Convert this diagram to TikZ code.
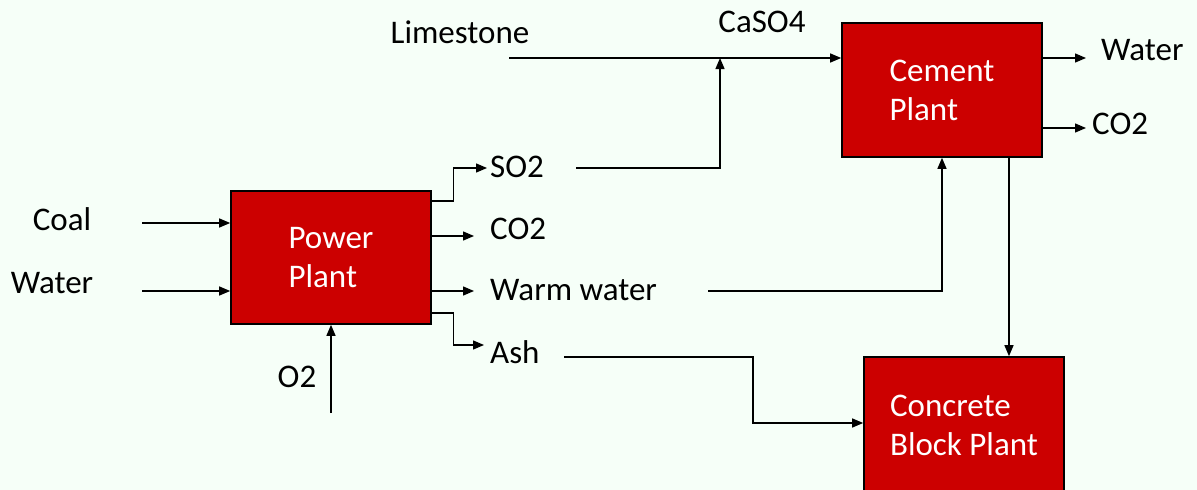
\documentclass[tikz,border=0pt]{standalone}
\usepackage{fontspec}
\setmainfont{Carlito}
\usetikzlibrary{arrows.meta}
\definecolor{bgc}{RGB}{246,255,248}
\definecolor{boxred}{RGB}{204,0,0}
\begin{document}
\begin{tikzpicture}[x=1pt,y=-1pt,
  font=\fontsize{33}{39}\selectfont,
  plant/.style={draw=black,line width=1.6pt,fill=boxred,text=white,align=left,
    minimum width=200pt,inner sep=0pt},
  lbl/.style={inner sep=0pt,anchor=base west},
  lblc/.style={inner sep=0pt,anchor=base},
  flow/.style={line width=1.3pt,-{Triangle[length=11pt,width=9pt]}},
  plain/.style={line width=1.3pt}]
\useasboundingbox (0,0) rectangle (1197,490);
\fill[bgc] (0,0) rectangle (1197,490);
\clip (0,0) rectangle (1197,490);

% boxes
\node[plant,minimum height=133pt] (power) at (331,257.5) {Power\\Plant};
\node[plant,minimum height=134pt] (cement) at (942,90) {Cement\\Plant};
\node[plant,minimum height=136pt] (concrete) at (964,425) {Concrete\\Block Plant};

% labels
\node[lblc] (coal) at (62,230) {Coal};
\node[lblc] (waterin) at (52,293) {Water};
\node[lblc] (o2) at (297,387) {O2};
\node[lbl] (so2) at (490,177) {SO2};
\node[lbl] (co2a) at (490,239.5) {CO2};
\node[lbl] (warm) at (490,300.5) {Warm water};
\node[lbl] (ash) at (490,363) {Ash};
\node[lblc] (lime) at (460,43) {Limestone};
\node[lblc] (caso4) at (762,32.5) {CaSO4};
\node[lbl] (waterout) at (1101,60) {Water};
\node[lbl] (co2b) at (1092,134) {CO2};

% free ends
\coordinate (coalS) at (142,223);
\coordinate (waterS) at (142,291);
\coordinate (o2S) at (331,413);
\coordinate (limeS) at (509,58);
\coordinate (so2S) at (576,168);
\coordinate (jn) at (720,58);
\coordinate (warmS) at (708,291);
\coordinate (ashS) at (564,357);
\coordinate (cwE) at (1086,58);
\coordinate (ccE) at (1086,128);

% inputs to power plant
\draw[flow] (coalS) -- (coalS -| power.west);
\draw[flow] (waterS) -- (waterS -| power.west);
\draw[flow] (o2S) -- (power.south);

% outputs of power plant
\draw[flow] (power.east |- 0,201) -- (453.5,201) |- (487,168);
\draw[flow] (power.east |- 0,236) -- (474,236);
\draw[flow] (power.east |- 0,291) -- (474,291);
\draw[flow] (power.east |- 0,313) -- (453.5,313) |- (484,345);

% limestone & SO2 to cement
\draw[flow] (limeS) -- (limeS -| cement.west);
\draw[flow] (so2S) -| (jn);

% cement outputs
\draw[flow] (cement.east |- cwE) -- (cwE);
\draw[flow] (cement.east |- ccE) -- (ccE);

% warm water to cement
\draw[flow] (warmS) -| (cement.south);

% cement to concrete
\draw[flow] (1009,0 |- cement.south) -- (1009,0 |- concrete.north);

% ash to concrete
\draw[flow] (ashS) -- (753,357) |- (concrete.west |- 0,423);
\end{tikzpicture}
\end{document}
